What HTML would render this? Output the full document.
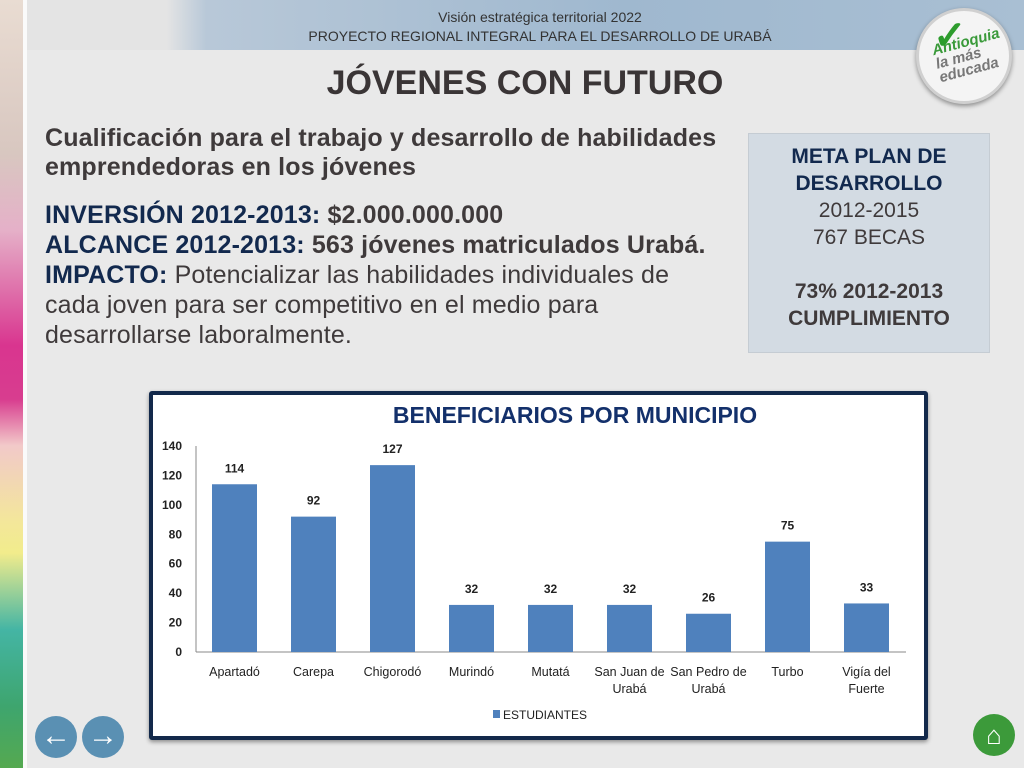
<!DOCTYPE html>
<html><head><meta charset="utf-8">
<style>
body{margin:0;width:1024px;height:768px;overflow:hidden;background:#e9e9e9;font-family:"Liberation Sans",sans-serif;position:relative}
.abs{position:absolute}
</style></head><body>
<div class="abs" style="left:0;top:0;width:23px;height:768px;background:linear-gradient(180deg,#e9dcd2 0%,#d8c7c0 20%,#e5b0c8 30%,#d9358f 45%,#d83d8f 52%,#f2c9c9 58%,#f3e79a 68%,#f2ec8c 72%,#44b5a4 82%,#3ea56e 92%,#55a950 100%)"></div>
<div class="abs" style="left:23px;top:0;width:4px;height:768px;background:#fafafa"></div>
<div class="abs" style="left:27px;top:0;width:997px;height:50px;background:linear-gradient(90deg,#e4e4e4 0%,#e4e4e4 14%,#b8c8d8 18%,#9fb8cf 60%,#a9bfd3 100%)"></div>
<div class="abs" style="left:230px;top:8px;width:620px;text-align:center;font-size:14px;color:#333;line-height:19px">Visión estratégica territorial 2022<br>PROYECTO REGIONAL INTEGRAL PARA EL DESARROLLO DE URABÁ</div>
<div class="abs" style="left:916px;top:8px;width:96px;height:96px;border-radius:50%;background:#f4f4f4;box-shadow:0 2px 5px rgba(0,0,0,.4);border:3px solid #d0d0d0;box-sizing:border-box">
<div style="position:absolute;left:16px;top:24px;color:#3a9a3a;font-size:15px;font-weight:bold;font-style:italic;line-height:14px;transform:rotate(-15deg)">Antioquia<br><span style="color:#777">la más<br>educada</span></div>
<div style="position:absolute;left:14px;top:2px;color:#2d9c2d;font-size:40px;font-weight:bold">✓</div></div>
<div class="abs" style="left:300px;top:64px;width:450px;text-align:center;font-size:34px;font-weight:bold;color:#3a3536">JÓVENES CON FUTURO</div>
<div class="abs" style="left:45px;top:124px;width:720px;font-size:25px;letter-spacing:0.15px;color:#3f3a3b;line-height:29px">
<b>Cualificación para el trabajo y desarrollo de habilidades<br>emprendedoras en los jóvenes</b>
<div style="margin-top:18px;line-height:30px"><b style="color:#12294e">INVERSIÓN 2012-2013:</b> <b>$2.000.000.000</b><br><b style="color:#12294e">ALCANCE 2012-2013:</b> <b>563 jóvenes matriculados Urabá.</b><br><b style="color:#12294e">IMPACTO:</b> Potencializar las habilidades individuales de<br>cada joven para ser competitivo en el medio para<br>desarrollarse laboralmente.</div></div>
<div class="abs" style="left:748px;top:133px;width:242px;height:220px;background:#d3dbe3;border:1px solid #c5ccd3;box-sizing:border-box;text-align:center;font-size:21px;line-height:27px;color:#3f3a3b;padding-top:9px">
<b style="color:#12294e">META PLAN DE<br>DESARROLLO</b><br>2012-2015<br>767 BECAS<br><br><b>73% 2012-2013<br>CUMPLIMIENTO</b></div>
<div class="abs" style="left:149px;top:391px;width:779px;height:349px;background:#fff;border:4px solid #13294b;box-sizing:border-box;border-radius:3px;box-shadow:0 2px 4px rgba(0,0,0,.4)"></div>
<svg class="abs" style="left:0;top:0" width="1024" height="768" id="chart"></svg>
<div class="abs" style="left:35px;top:716px;width:42px;height:42px;border-radius:50%;background:#5a90b3;color:#fff;font-size:30px;font-weight:bold;text-align:center;line-height:40px">&#8592;</div>
<div class="abs" style="left:82px;top:716px;width:42px;height:42px;border-radius:50%;background:#5a90b3;color:#fff;font-size:30px;font-weight:bold;text-align:center;line-height:40px">&#8594;</div>
<div class="abs" style="left:973px;top:714px;width:42px;height:42px;border-radius:50%;background:#3c9a3a;color:#fff;font-size:26px;text-align:center;line-height:42px">&#8962;</div>
<script>
const categories=["Apartadó","Carepa","Chigorodó","Murindó","Mutatá","San Juan de|Urabá","San Pedro de|Urabá","Turbo","Vigía del|Fuerte"];
const values=[114,92,127,32,32,32,26,75,33];
const yTicks=[0,20,40,60,80,100,120,140];
const NS="http://www.w3.org/2000/svg";
const svg=document.getElementById('chart');
const x0=195,step=79,y0=652,yTop=446,yMax=140;
const y=v=>y0-(v/yMax)*(y0-yTop);
const xc=i=>x0+step*(i+0.5);
function mk(t,a,txt){const e=document.createElementNS(NS,t);for(const k in a)e.setAttribute(k,a[k]);if(txt!==undefined)e.textContent=txt;svg.appendChild(e);return e;}
const F='"Liberation Sans Narrow","Liberation Sans",sans-serif';
let t=mk('text',{x:575,y:423,'text-anchor':'middle','font-size':23,'font-weight':'bold',fill:'#13306b','font-family':'"Liberation Sans",sans-serif'},'BENEFICIARIOS POR MUNICIPIO');


yTicks.forEach(v=>{const e=mk('text',{x:182,y:y(v)+4,'text-anchor':'end','font-size':12,'font-weight':'bold',fill:'#222','font-family':F},v);

});
let ax=mk('line',{x1:196,y1:446,x2:196,y2:y0,stroke:'#888'});


let bx=mk('line',{x1:196,y1:y0,x2:x0+step*categories.length,y2:y0,stroke:'#888'});


values.forEach((v,i)=>{
const r=mk('rect',{x:xc(i)-22.5,y:y(v),width:45,height:y0-y(v),fill:'#4f81bd'});


const l=mk('text',{x:xc(i),y:y(v)-12,'text-anchor':'middle','font-size':12,'font-weight':'bold',fill:'#222','font-family':F},v);


categories[i].split('|').forEach((p,j)=>{const c=mk('text',{x:xc(i),y:676+j*17,'text-anchor':'middle','font-size':12.5,fill:'#222','font-family':F},p);

});
});
let lg=mk('rect',{x:493,y:710,width:7,height:8,fill:'#4f81bd'});


let lt=mk('text',{x:503,y:719,'font-size':12,fill:'#222','font-family':F},'ESTUDIANTES');


</script>
</body></html>
